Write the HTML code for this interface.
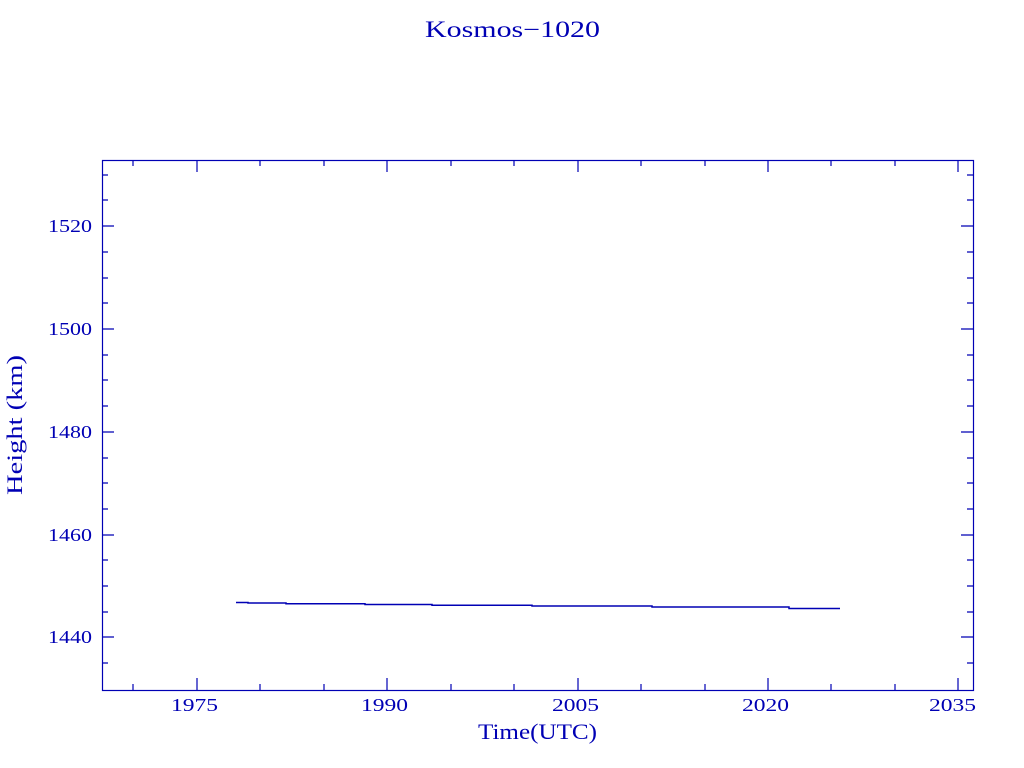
<!DOCTYPE html>
<html><head><style>body{margin:0;background:#fff}svg{display:block}</style></head><body>
<svg width="1024" height="768" xmlns="http://www.w3.org/2000/svg" font-family="Liberation Serif, serif" fill="#0000b4">
<text x="425" y="37" font-size="23" textLength="175" lengthAdjust="spacingAndGlyphs">Kosmos−1020</text>
<rect x="102.5" y="160.5" width="871" height="530" fill="none" stroke="#0000b4" stroke-width="1.2"/>
<g stroke="#0000b4" stroke-width="1.2">
<path d="M102 637h12M102 535h12M102 432h12M102 329h12M102 226h12M973 637h-12M973 535h-12M973 432h-12M973 329h-12M973 226h-12"/>
<path d="M102 663h6M102 612h6M102 586h6M102 560h6M102 509h6M102 483h6M102 458h6M102 406h6M102 380h6M102 355h6M102 303h6M102 278h6M102 252h6M102 200h6M102 175h6M973 663h-6M973 612h-6M973 586h-6M973 560h-6M973 509h-6M973 483h-6M973 458h-6M973 406h-6M973 380h-6M973 355h-6M973 303h-6M973 278h-6M973 252h-6M973 200h-6M973 175h-6"/>
<path d="M197 690v-12M387 690v-12M578 690v-12M768 690v-12M958 690v-12M197 160v12M387 160v12M578 160v12M768 160v12M958 160v12"/>
<path d="M133 690v-6M260 690v-6M324 690v-6M451 690v-6M514 690v-6M641 690v-6M705 690v-6M831 690v-6M895 690v-6M133 160v6M260 160v6M324 160v6M451 160v6M514 160v6M641 160v6M705 160v6M831 160v6M895 160v6"/>
<path fill="none" stroke-width="1.5" d="M236 602.5H248V603H286V603.8H365V604.5H432V605.3H532V606H652V607H789V608.5H840"/>
</g>
<g font-size="18">
<text x="48" y="643" textLength="44" lengthAdjust="spacingAndGlyphs">1440</text>
<text x="48" y="541" textLength="44" lengthAdjust="spacingAndGlyphs">1460</text>
<text x="48" y="438" textLength="44" lengthAdjust="spacingAndGlyphs">1480</text>
<text x="48" y="335" textLength="44" lengthAdjust="spacingAndGlyphs">1500</text>
<text x="48" y="232" textLength="44" lengthAdjust="spacingAndGlyphs">1520</text>
<text x="171" y="711" textLength="47" lengthAdjust="spacingAndGlyphs">1975</text>
<text x="361" y="711" textLength="47" lengthAdjust="spacingAndGlyphs">1990</text>
<text x="552" y="711" textLength="47" lengthAdjust="spacingAndGlyphs">2005</text>
<text x="742" y="711" textLength="47" lengthAdjust="spacingAndGlyphs">2020</text>
<text x="929" y="711" textLength="47" lengthAdjust="spacingAndGlyphs">2035</text>
</g>
<text x="478" y="739" font-size="22" textLength="119" lengthAdjust="spacingAndGlyphs">Time(UTC)</text>
<text transform="translate(22,495) rotate(-90)" font-size="22" textLength="140" lengthAdjust="spacingAndGlyphs">Height (km)</text>
</svg>
</body></html>
